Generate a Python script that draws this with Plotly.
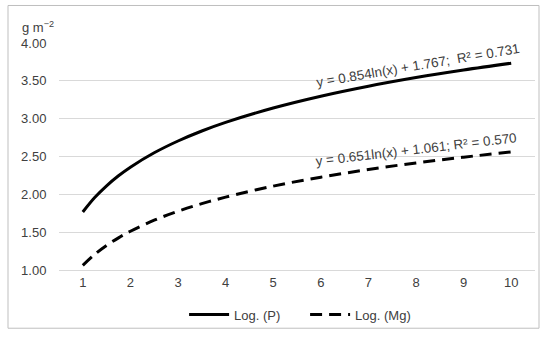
import plotly.graph_objects as go

x_vals = [1, 1.25, 1.5, 1.75, 2, 2.5, 3, 3.5, 4, 5, 6, 7, 8, 9, 10]
p_vals = [1.767, 1.958, 2.113, 2.245, 2.359, 2.549, 2.705, 2.837, 2.951, 3.141, 3.297,
          3.429, 3.543, 3.643, 3.733]
mg_vals = [1.061, 1.206, 1.325, 1.425, 1.512, 1.658, 1.776, 1.877, 1.963, 2.109, 2.227,
           2.328, 2.415, 2.491, 2.560]
x_ticks = [1, 2, 3, 4, 5, 6, 7, 8, 9, 10]
y_ticks = [1.0, 1.5, 2.0, 2.5, 3.0, 3.5, 4.0]
p_label = "y = 0.854ln(x) + 1.767;  R² = 0.731"
mg_label = "y = 0.651ln(x) + 1.061; R² = 0.570"

FONT = "Liberation Sans, Arial, sans-serif"
TXT = "#404040"

fig = go.Figure()
fig.add_trace(go.Scatter(x=x_vals, y=p_vals, mode="lines", name="Log. (P)",
                         line=dict(color="black", width=3, shape="spline")))
fig.add_trace(go.Scatter(x=x_vals, y=mg_vals, mode="lines", name="Log. (Mg)",
                         line=dict(color="black", width=3, shape="spline", dash="12px,7px")))

fig.update_layout(
    width=550, height=341,
    margin=dict(l=59, r=15, t=43, b=68),
    paper_bgcolor="white", plot_bgcolor="white",
    font=dict(family=FONT, size=13, color=TXT),
    showlegend=True,
    legend=dict(orientation="h", x=0.517, xanchor="center", y=-0.196, yanchor="middle",
                font=dict(size=13, color=TXT), bgcolor="rgba(0,0,0,0)",
                itemwidth=40, entrywidth=66),
    xaxis=dict(range=[0.5, 10.5], tickvals=x_ticks, showgrid=False, zeroline=False,
               showline=True, linecolor="#d9d9d9", linewidth=1, ticks="",
               tickfont=dict(size=13, color=TXT), fixedrange=True),
    yaxis=dict(range=[1.0, 4.0], tickvals=y_ticks, tickformat=".2f", showgrid=True,
               gridcolor="#d9d9d9", gridwidth=1, zeroline=False, showline=False,
               ticks="outside", ticklen=9, tickcolor="rgba(0,0,0,0)",
               tickfont=dict(size=13, color=TXT), fixedrange=True),
)

# outer chart border
fig.add_shape(type="rect", xref="paper", yref="paper",
              x0=(8 - 59) / 476, x1=(539 - 59) / 476,
              y0=(273 - 332) / 230, y1=(273 - 5) / 230,
              line=dict(color="#bfbfbf", width=1), fillcolor="rgba(0,0,0,0)", layer="below")

fig.add_annotation(text="g m<sup>−2</sup>", xref="paper", yref="paper",
                   x=(20 - 59) / 476, y=(273 - 27) / 230, xanchor="left", yanchor="middle",
                   showarrow=False, font=dict(size=13, color=TXT))
fig.add_annotation(text=p_label, x=8.04, y=3.70, textangle=-9.6, showarrow=False,
                   font=dict(size=13.5, color=TXT))
fig.add_annotation(text=mg_label, x=8.0, y=2.59, textangle=-6.7, showarrow=False,
                   font=dict(size=13.5, color=TXT))

fig.write_html("out.html", config={"displayModeBar": False},
               post_script="document.body.style.margin='0';")
